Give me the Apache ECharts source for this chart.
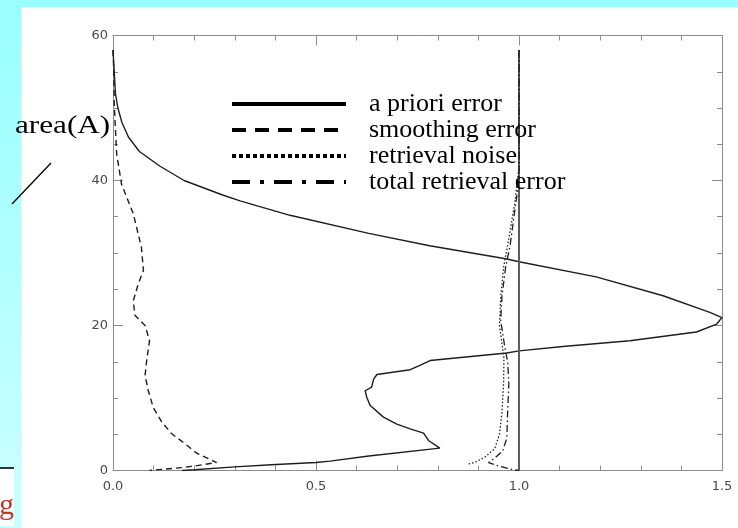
<!DOCTYPE html>
<html>
<head>
<meta charset="utf-8">
<script src="https://cdn.jsdelivr.net/npm/echarts@6/dist/echarts.min.js"></script>
<style>
html,body{margin:0;padding:0;}
#chart{width:738px;height:528px;}
</style>
</head>
<body>
<div id="chart"></div>
<script>
// ---- data: [x (error), altitude] ----
const legendNames = ['a priori error', 'smoothing error', 'retrieval noise', 'total retrieval error'];
const xTickLabels = ['0.0', '0.5', '1.0', '1.5'];
const yTickLabels = ['0', '20', '40', '60'];

const aPrioriCurve = [
  [0.0,58],[0.003,55],[0.006,52],[0.012,50],[0.022,48],[0.038,46],[0.065,44],[0.115,42],
  [0.175,40],[0.27,38],[0.313,37.2],[0.436,35.2],[0.63,32.7],[0.78,31.0],[0.967,29.2],
  [1.0,28.8],[1.19,26.7],[1.355,24.1],[1.47,21.8],[1.5,21.1],[1.487,20.2],[1.437,19.1],
  [1.273,17.9],[1.108,17.1],[1.0,16.5],[0.97,16.2],[0.781,15.17],[0.756,14.5],[0.732,13.9],
  [0.65,13.24],[0.642,12.6],[0.637,11.5],[0.621,11.0],[0.625,10.1],[0.633,9.0],[0.666,7.36],
  [0.699,6.4],[0.732,5.75],[0.765,5.15],[0.777,4.14],[0.805,3.08],[0.63,2.0],[0.535,1.3],
  [0.5,1.1],[0.39,0.8],[0.3,0.5],[0.2,0.1],[0.17,0]
];
const aPrioriReference = [[1.0,0],[1.0,58]];
const smoothingError = [
  [0.0,58],[0.002,55],[0.003,50.6],[0.009,43.7],[0.021,39.5],[0.05,35.4],[0.07,30.8],
  [0.075,27.6],[0.062,25.7],[0.05,23.4],[0.054,21.4],[0.079,20],[0.09,17.9],[0.083,15.2],
  [0.079,13.1],[0.087,11],[0.099,8.7],[0.12,6.7],[0.144,5.1],[0.177,3.7],[0.206,2.4],
  [0.255,1.1],[0.21,0.7],[0.17,0.4],[0.13,0.2],[0.09,0]
];
const retrievalNoise = [
  [1.0,58],[1.0,42],[0.99,37],[0.975,32],[0.962,28],[0.955,24],[0.952,20],[0.958,17.5],
  [0.963,15.5],[0.962,12],[0.958,8],[0.952,5],[0.94,3],[0.915,1.8],[0.89,1.1],[0.875,0.9]
];
const totalRetrievalError = [
  [1.0,58],[1.0,40],[0.99,36],[0.978,31],[0.967,28],[0.958,24],[0.955,20.7],[0.965,17],
  [0.972,15],[0.975,12],[0.972,8],[0.97,4.5],[0.96,2.7],[0.94,1.7],[0.925,1.1],[0.945,0.7],
  [0.975,0.25],[1.0,0]
];

const chart = echarts.init(document.getElementById('chart'), null, {renderer:'canvas'});

const axisColor = '#8c8c8c';
const labelStyle = {color:'#4a4a4a', fontFamily:'DejaVu Sans', fontSize:13};

function xAxisDef(pos, showLabel){
  return {
    type:'value', position:pos, min:0, max:1.5, interval:0.5,
    axisLine:{show:true, onZero:false, lineStyle:{color:axisColor, width:1}},
    axisTick:{show:true, inside:true, length:10, lineStyle:{color:axisColor}},
    minorTick:{show:true, splitNumber:5, length:5, lineStyle:{color:axisColor}},
    splitLine:{show:false},
    axisLabel:{show:showLabel, margin:10, ...labelStyle,
      formatter:(v)=>xTickLabels[Math.round(v/0.5)] }
  };
}
function yAxisDef(pos, showLabel){
  return {
    type:'value', position:pos, min:0, max:60, interval:20,
    axisLine:{show:true, onZero:false, lineStyle:{color:axisColor, width:1}},
    axisTick:{show:true, inside:true, length:10, lineStyle:{color:axisColor}},
    minorTick:{show:true, splitNumber:4, length:5, lineStyle:{color:axisColor}},
    splitLine:{show:false},
    axisLabel:{show:showLabel, margin:5, ...labelStyle,
      formatter:(v)=>yTickLabels[Math.round(v/20)] }
  };
}

const lineColor = '#1e1e1e';
function lineSeries(name, data, type, width, color){
  return {
    name:name, type:'line', data:data, symbol:'none', showSymbol:false,
    smooth:false, animation:false, silent:true, z:3,
    itemStyle:{color:color||lineColor},
    lineStyle:{color:color||lineColor, width:width||1.3, type:type}
  };
}

const option = {
  backgroundColor:{type:'linear', x:0, y:0, x2:0, y2:1,
    colorStops:[{offset:0,color:'#99ffff'},{offset:1,color:'#ccffff'}]},
  animation:false,
  grid:{left:113, right:16, top:35.5, bottom:57.5, containLabel:false},
  xAxis:[xAxisDef('bottom', true), xAxisDef('top', false)],
  yAxis:[yAxisDef('left', true), yAxisDef('right', false)],
  legend:{
    left:225, top:86, orient:'vertical', itemWidth:114, itemHeight:14, itemGap:0,
    selectedMode:false,
    itemStyle:{opacity:0},
    textStyle:{fontFamily:'Liberation Serif', fontSize:26, color:'#000', lineHeight:23, padding:[0,0,0,18]},
    data:[
      {name:legendNames[0], itemStyle:{opacity:0}, lineStyle:{color:'#000', width:4, type:'solid'}},
      {name:legendNames[1], itemStyle:{opacity:0}, lineStyle:{color:'#000', width:4, type:[14,9]}},
      {name:legendNames[2], itemStyle:{opacity:0}, lineStyle:{color:'#000', width:4, type:[4,3]}},
      {name:legendNames[3], itemStyle:{opacity:0}, lineStyle:{color:'#000', width:4, type:[18,10,4,10]}}
    ]
  },
  series:[
    lineSeries(legendNames[0], aPrioriCurve, 'solid', 1.4),
    lineSeries(legendNames[0], aPrioriReference, 'solid', 2, '#5c5c5c'),
    lineSeries(legendNames[1], smoothingError, [6,4], 1.4),
    lineSeries(legendNames[2], retrievalNoise, [1.5,2], 1.3),
    lineSeries(legendNames[3], totalRetrievalError, [7,3,1.5,3], 1.3)
  ],
  graphic:[
    {type:'rect', z:-100, silent:true, shape:{x:21, y:7, width:717, height:521}, style:{fill:'#ffffff'}},
    {type:'rect', z:-99, silent:true, shape:{x:0, y:469, width:14, height:57}, style:{fill:'#ffffff'}},
    {type:'line', z:-98, silent:true, shape:{x1:0, y1:468, x2:14, y2:468}, style:{stroke:'#333', lineWidth:2}},
    {type:'text', z:10, silent:true, x:14, y:521,
      style:{text:'g', fill:'#c0392b', font:'30px "Liberation Serif"', align:'right', verticalAlign:'bottom'}},
    {type:'text', z:10, silent:true, x:15, y:126, scaleX:1.2,
      style:{text:'area(A)', fill:'#000', font:'26px "Liberation Serif"', align:'left', verticalAlign:'middle'}},
    {type:'line', z:10, silent:true, shape:{x1:12, y1:204, x2:51, y2:163}, style:{stroke:'#000', lineWidth:1.3}}
  ]
};
chart.setOption(option);
</script>
</body>
</html>
